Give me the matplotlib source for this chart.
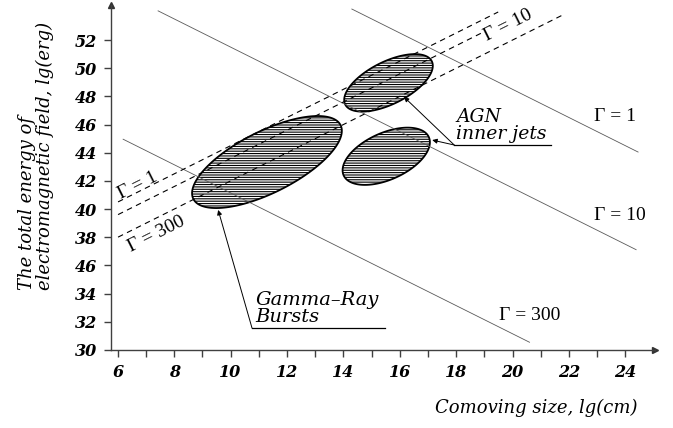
import numpy as np
import matplotlib
matplotlib.use("Agg")
import matplotlib.pyplot as plt

# --- data (x: lg R [cm], y: lg E [erg]) ---
x_ticks = [6, 8, 10, 12, 14, 16, 18, 20, 22, 24]
y_ticks = [30, 32, 34, 36, 38, 40, 42, 44, 46, 48, 50, 52]
y_tick_labels = ["30", "32", "34", "46", "38", "40", "42", "44", "46", "48", "50", "52"]

# solid lines y = c - x (Gamma = 1, 10, 300)
solid_c = [68.5, 61.5, 51.15]
solid_x0 = [14.3, 7.43, 6.19]
solid_x1 = [24.45, 24.38, 20.6]

# dashed lines y = x + c (Gamma = 1, 10, 300)
dash_c = [34.5, 33.6, 32.0]
dash_x0 = [6.01, 6.01, 6.01]
dash_x1 = [19.49, 18.9, 21.86]

# ellipses: GRB, AGN upper, AGN lower (centre, half axis vectors in data units)
ell_x = [11.29, 15.60, 15.52]
ell_y = [43.34, 48.96, 43.75]
ell_major = [(2.61, 2.62), (1.535, 1.535), (1.51, 1.36)]
ell_minor = [(-0.49, 1.95), (-0.336, 1.345), (-0.34, 1.51)]

plt.rcParams["hatch.linewidth"] = 0.8
serif = ["DejaVu Serif"]
times = ["Liberation Serif", "DejaVu Serif"]

fig = plt.figure(figsize=(6.73, 4.28), dpi=100)
ax = fig.add_axes([111 / 673, 1 - 350 / 428, 544 / 673, 345.2 / 428])
ax.set_xlim(5.76, 25.05)
ax.set_ylim(30, 54.5)

# ellipses
t = np.linspace(0, 2 * np.pi, 200)
for cx, cy, (ax_, ay_), (bx_, by_) in zip(ell_x, ell_y, ell_major, ell_minor):
    ex = cx + ax_ * np.cos(t) + bx_ * np.sin(t)
    ey = cy + ay_ * np.cos(t) + by_ * np.sin(t)
    ax.fill(ex, ey, facecolor="white", edgecolor="black", lw=1.3,
            hatch="-" * 7, zorder=2)

# gamma lines
for c, x0, x1 in zip(solid_c, solid_x0, solid_x1):
    xs = np.array([x0, x1])
    ax.plot(xs, c - xs, color="0.35", lw=0.6, zorder=3)
for c, x0, x1 in zip(dash_c, dash_x0, dash_x1):
    xs = np.array([x0, x1])
    ax.plot(xs, xs + c, color="black", lw=0.8, ls=(0, (5, 4)), zorder=3)

# gamma labels
ax.text(23.64, 46.54, "Γ = 1", family=times, fontsize=14, ha="center", va="center")
ax.text(23.82, 39.58, "Γ = 10", family=times, fontsize=14, ha="center", va="center")
ax.text(20.62, 32.48, "Γ = 300", family=times, fontsize=14, ha="center", va="center")
ax.text(6.72, 41.64, "Γ = 1", family=times, fontsize=14, ha="center", va="center",
        rotation=26.6)
ax.text(7.36, 38.23, "Γ = 300", family=times, fontsize=14, ha="center", va="center",
        rotation=26.6)
ax.text(19.84, 53.07, "Γ = 10", family=times, fontsize=14, ha="center", va="center",
        rotation=26.6)

# annotations
arrow = dict(arrowstyle="-|>", lw=0.7, color="black", mutation_scale=7,
             shrinkA=0, shrinkB=0)
ax.text(18.0, 44.7, "AGN\ninner jets", family=serif, style="italic",
        fontsize=13.5, ha="left", va="bottom", linespacing=0.95)
ax.plot([17.93, 21.37], [44.55, 44.55], color="black", lw=0.9)
ax.annotate("", xy=(16.15, 47.96), xytext=(17.93, 44.55), arrowprops=arrow)
ax.annotate("", xy=(17.15, 44.90), xytext=(17.93, 44.55), arrowprops=arrow)

ax.text(10.87, 31.68, "Gamma–Ray\nBursts", family=serif, style="italic",
        fontsize=14, ha="left", va="bottom", linespacing=0.95)
ax.plot([10.76, 15.48], [31.56, 31.56], color="black", lw=0.9)
ax.annotate("", xy=(9.56, 39.94), xytext=(10.76, 31.56), arrowprops=arrow)

# axes styling
for s in ["top", "right"]:
    ax.spines[s].set_visible(False)
for s in ["left", "bottom"]:
    ax.spines[s].set_color("0.25")
    ax.spines[s].set_linewidth(1.0)
ax.plot(1, 0, ">", color="0.2", ms=5, transform=ax.transAxes, clip_on=False)
ax.plot(0, 1, "^", color="0.2", ms=5, transform=ax.transAxes, clip_on=False)

ax.set_xticks(x_ticks)
ax.set_xticks(range(7, 25, 2), minor=True)
ax.set_yticks(y_ticks)
ax.set_yticklabels(y_tick_labels)
ax.tick_params(which="both", direction="out", length=4.8, width=1.0, color="0.25",
               pad=5)
for lab in ax.get_xticklabels() + ax.get_yticklabels():
    lab.set_family(serif)
    lab.set_style("italic")
    lab.set_weight("bold")
    lab.set_fontsize(11.5)

fig.text(36 / 673, 1 - 156 / 428, "The total energy of\nelectromagnetic field, lg(erg)",
         family=serif, style="italic", fontsize=13, rotation=90,
         ha="center", va="center", multialignment="left", linespacing=1.05)
fig.text(536 / 673, 1 - 408 / 428, "Comoving size, lg(cm)", family=serif,
         style="italic", fontsize=13, ha="center", va="center")

fig.savefig("out.png", dpi=100)
